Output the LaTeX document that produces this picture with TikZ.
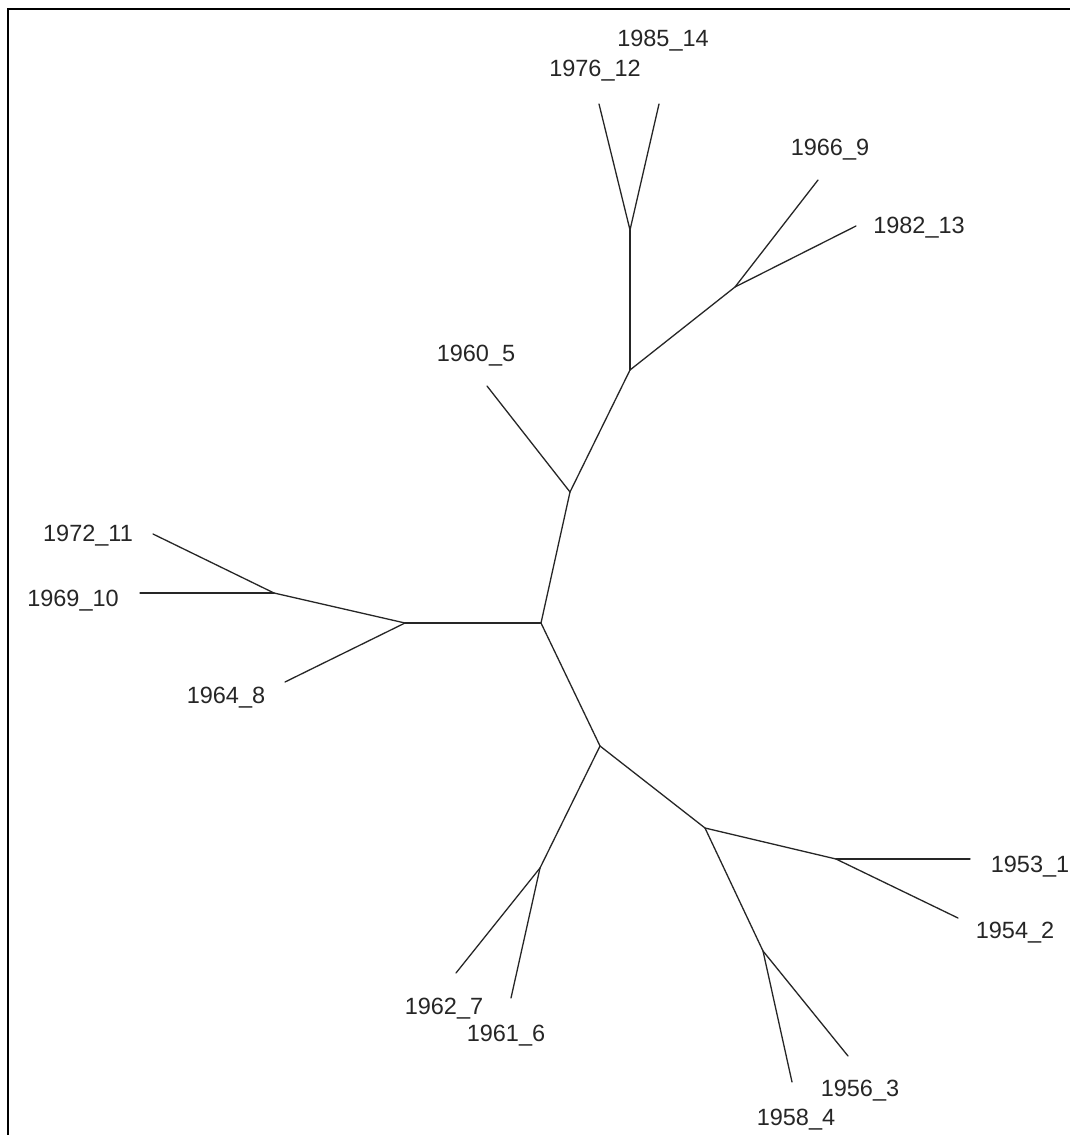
\documentclass[tikz,border=0pt]{standalone}
\usepackage{fontspec}
\setmainfont{Liberation Sans}
\begin{document}
\begin{tikzpicture}[x=1pt,y=-1pt,
  edge/.style={line width=1.3pt, draw=black!85, line cap=round},
  lbl/.style={font=\fontsize{23.5}{28}\selectfont, text=black!85, inner sep=0pt, anchor=base}]
\useasboundingbox (0,0) rectangle (1070,1135);
\fill[white] (0,0) rectangle (1070,1135);
\draw[line width=2.5pt] (8,1135) -- (8,9) -- (1070,9);
% internal nodes
\coordinate (C) at (541,623);
\coordinate (L) at (405,623);
\coordinate (L2) at (274,593);
\coordinate (U1) at (570,492);
\coordinate (U2) at (630,370);
\coordinate (U3) at (630,230);
\coordinate (U4) at (735,287);
\coordinate (D1) at (600,746);
\coordinate (D2) at (540,868);
\coordinate (D3) at (705,828);
\coordinate (D4) at (836,859);
\coordinate (D5) at (763,951);
% leaf ends
\coordinate (t11) at (153,534);
\coordinate (t10) at (140,593);
\coordinate (t8) at (285,682);
\coordinate (t5) at (487,386);
\coordinate (t12) at (599,104);
\coordinate (t14) at (659,104);
\coordinate (t9) at (818,180);
\coordinate (t13) at (856,226);
\coordinate (t1) at (970,859);
\coordinate (t2) at (958,918);
\coordinate (t7) at (456,973);
\coordinate (t6) at (511,998);
\coordinate (t3) at (848,1056);
\coordinate (t4) at (792,1082);
% labels
\node[lbl] (n11) at (88,541) {1972\_11};
\node[lbl] (n10) at (73,606) {1969\_10};
\node[lbl] (n8) at (226,703) {1964\_8};
\node[lbl] (n5) at (476,361) {1960\_5};
\node[lbl] (n12) at (595,76.5) {1976\_12};
\node[lbl] (n14) at (663,46.5) {1985\_14};
\node[lbl] (n9) at (830,155) {1966\_9};
\node[lbl] (n13) at (919,233) {1982\_13};
\node[lbl] (n1) at (1030,872) {1953\_1};
\node[lbl] (n2) at (1015,938) {1954\_2};
\node[lbl] (n7) at (444,1014) {1962\_7};
\node[lbl] (n6) at (506,1041) {1961\_6};
\node[lbl] (n3) at (860,1096) {1956\_3};
\node[lbl] (n4) at (796,1125) {1958\_4};
% edges
\draw[edge] (C) -- (L);
\draw[edge] (L) -- (L2);
\draw[edge] (L2) -- (t11);
\draw[edge] (L2) -- (t10);
\draw[edge] (L) -- (t8);
\draw[edge] (C) -- (U1);
\draw[edge] (U1) -- (t5);
\draw[edge] (U1) -- (U2);
\draw[edge] (U2) -- (U3);
\draw[edge] (U3) -- (t12);
\draw[edge] (U3) -- (t14);
\draw[edge] (U2) -- (U4);
\draw[edge] (U4) -- (t9);
\draw[edge] (U4) -- (t13);
\draw[edge] (C) -- (D1);
\draw[edge] (D1) -- (D2);
\draw[edge] (D2) -- (t7);
\draw[edge] (D2) -- (t6);
\draw[edge] (D1) -- (D3);
\draw[edge] (D3) -- (D4);
\draw[edge] (D4) -- (t1);
\draw[edge] (D4) -- (t2);
\draw[edge] (D3) -- (D5);
\draw[edge] (D5) -- (t3);
\draw[edge] (D5) -- (t4);
\end{tikzpicture}
\end{document}
